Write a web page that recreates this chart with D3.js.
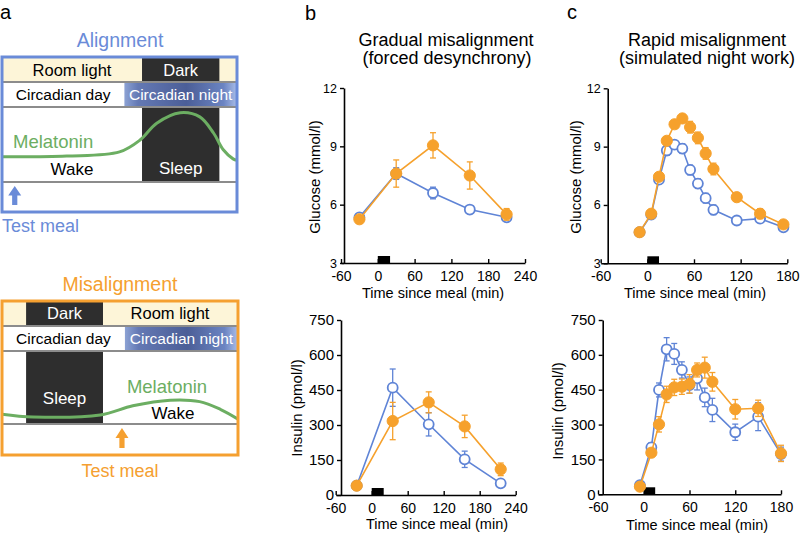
<!DOCTYPE html>
<html>
<head>
<meta charset="utf-8">
<script src="https://cdn.jsdelivr.net/npm/d3@7"></script>
<style>
  body { margin: 0; background: #fff; }
  svg { display: block; font-family: "Liberation Sans", Arial, sans-serif; }
</style>
</head>
<body>
<svg id="fig" width="800" height="533"></svg>
<script>
// ---- data ----
// panel b, gradual misalignment (forced desynchrony)
const bGluTimes = [-30, 30, 90, 150, 210];
const bGluAlign = [5.35, 7.6, 6.6, 5.75, 5.35];
const bGluAlignErr = [0.1, 0.3, 0.3, 0.1, 0.1];
const bGluMis = [5.25, 7.6, 9.05, 7.5, 5.5];
const bGluMisErr = [0.1, 0.7, 0.65, 0.7, 0.3];
const bInsTimes = [-25, 35, 95, 155, 215];
const bInsAlign = [40, 460, 303, 153, 50];
const bInsAlignErr = [8, 80, 50, 35, 10];
const bInsMis = [40, 317, 397, 294, 110];
const bInsMisErr = [8, 80, 45, 48, 27];
const bMeal = [0, 20];

// panel c, rapid misalignment (simulated night work)
const cGluTimes = [-10, 5, 15, 25, 35, 45, 55, 65, 75, 85, 115, 145, 175];
const cGluAlign = [4.6, 5.5, 7.3, 8.8, 9.1, 8.9, 7.8, 7.1, 6.35, 5.75, 5.2, 5.3, 4.85];
const cGluAlignErr = [0.1, 0.1, 0.2, 0.25, 0.2, 0.25, 0.25, 0.25, 0.25, 0.25, 0.2, 0.2, 0.15];
const cGluMis = [4.6, 5.55, 7.45, 9.3, 10.15, 10.45, 10.0, 9.45, 8.65, 7.85, 6.4, 5.55, 5.0];
const cGluMisErr = [0.1, 0.1, 0.15, 0.2, 0.2, 0.2, 0.3, 0.3, 0.3, 0.3, 0.2, 0.25, 0.15];
const cInsTimes = [-5, 10, 20, 30, 40, 50, 60, 70, 80, 90, 120, 150, 180];
const cInsAlign = [39, 202, 449, 624, 604, 535, 470, 499, 417, 363, 267, 334, 173];
const cInsAlignErr = [10, 20, 30, 50, 45, 35, 35, 50, 40, 50, 35, 60, 30];
const cInsMis = [33, 179, 301, 430, 460, 463, 475, 535, 545, 484, 366, 370, 176];
const cInsMisErr = [10, 15, 33, 35, 35, 33, 40, 30, 45, 40, 42, 35, 35];
const cMeal = [0, 15];

const gluTicks = [3, 6, 9, 12];
const insTicks = [0, 150, 300, 450, 600, 750];
const bTimeTicks = [-60, 0, 60, 120, 180, 240];
const cTimeTicks = [-60, 0, 60, 120, 180];

// panel a schematic (hours across the 24 h box, melatonin in arbitrary units)
const alignDark = [14.3, 22.2];
const alignNight = [12.5, 24];
const alignMealHour = 1.3;
const alignMelHours = [0, 6.6, 12, 14.1, 15.8, 18.2, 20.2, 21.6, 22.6, 23.6, 24];
const alignMelLevel = [0.36, 0.37, 0.43, 0.6, 0.84, 0.99, 0.93, 0.7, 0.46, 0.33, 0.31];
const misDark = [2.45, 10.27];
const misNight = [12.5, 24];
const misMealHour = 12.2;
const misMelHours = [0, 3.15, 10, 13.3, 17.1, 20.1, 22.2, 24];
const misMelLevel = [0.14, 0.1, 0.13, 0.26, 0.34, 0.32, 0.21, 0.07];

// ---- styles ----
const BLUE = "#5f84d6", ORANGE = "#f6a12c", GREEN = "#6cae62";
const CREAM = "#fdf5d8", DARK = "#2e2e2e", SEP = "#8c8c8c";

const svg = d3.select("#fig");

// gradient for circadian night
const grad = svg.append("defs").append("linearGradient").attr("id", "night");
[["0%", "#8ca2d4"], ["12%", "#6479b4"], ["55%", "#4b5e97"], ["88%", "#6b84c2"], ["100%", "#a9bde8"]]
  .forEach(s => grad.append("stop").attr("offset", s[0]).attr("stop-color", s[1]));

// panel letters
svg.append("text").attr("x", 0).attr("y", 19).attr("font-size", 20).text("a");
svg.append("text").attr("x", 305).attr("y", 20).attr("font-size", 20).text("b");
svg.append("text").attr("x", 567).attr("y", 19).attr("font-size", 20).text("c");

// ---------- panel a ----------
function drawSchematic(c) {
  const g = svg.append("g");
  const hx = d3.scaleLinear().domain([0, 24]).range([c.x0, c.x1]);
  const r = c.rows;
  const my = d3.scaleLinear().domain([0, 1]).range([r[3], r[3] - 70]);
  const mid = a => (hx(a[0]) + hx(a[1])) / 2;

  g.append("rect").attr("x", hx(0)).attr("y", r[0]).attr("width", hx(24) - hx(0))
    .attr("height", r[1] - r[0]).attr("fill", CREAM);
  g.append("rect").attr("x", hx(c.dark[0])).attr("y", r[0]).attr("width", hx(c.dark[1]) - hx(c.dark[0]))
    .attr("height", r[1] - r[0]).attr("fill", DARK);
  g.append("rect").attr("x", hx(c.dark[0])).attr("y", r[2]).attr("width", hx(c.dark[1]) - hx(c.dark[0]))
    .attr("height", r[3] - r[2]).attr("fill", DARK);
  g.append("rect").attr("x", hx(c.night[0])).attr("y", r[1]).attr("width", hx(c.night[1]) - hx(c.night[0]))
    .attr("height", r[2] - r[1]).attr("fill", "url(#night)");
  [r[1], r[2], r[3]].forEach(yy => g.append("line").attr("x1", hx(0)).attr("x2", hx(24))
    .attr("y1", yy).attr("y2", yy).attr("stroke", SEP).attr("stroke-width", 2));

  const mel = c.melHours.map((h, i) => [h, c.melLevel[i]]);
  g.append("path").datum(mel).attr("fill", "none").attr("stroke", GREEN).attr("stroke-width", 3)
    .attr("d", d3.line().x(d => hx(d[0])).y(d => my(d[1])).curve(d3.curveCatmullRom));

  const txt = (x, y, s, col, size, anchor) => g.append("text").attr("x", x).attr("y", y)
    .attr("fill", col).attr("font-size", size).attr("text-anchor", anchor || "middle").text(s);
  txt(c.lightMid, c.base[0], "Room light", "#000", 16.5);
  txt(mid(c.dark), c.base[0], "Dark", "#fff", 16.5);
  txt(mid([0, c.night[0]]), c.base[1], "Circadian day", "#000", 15.5);
  txt(mid(c.night), c.base[1], "Circadian night", "#fff", 15.5);
  txt(c.wakeMid, c.base[2], "Wake", "#000", 17);
  txt(mid(c.dark), c.base[3], "Sleep", "#fff", 17);
  txt(c.melX, c.melY, "Melatonin", GREEN, 18.5, c.melAnchor);

  g.append("rect").attr("x", c.x0).attr("y", r[0]).attr("width", c.x1 - c.x0)
    .attr("height", r[4] - r[0]).attr("fill", "none").attr("stroke", c.color).attr("stroke-width", 3);

  // meal arrow
  const ax = hx(c.meal), at = r[3] + 4, ab = r[4] - 7;
  const ah = (ab - at) * 0.5;
  g.append("path").attr("fill", c.color)
    .attr("d", `M${ax},${at} L${ax + 6.5},${at + ah} L${ax + 2.6},${at + ah} L${ax + 2.6},${ab}
      L${ax - 2.6},${ab} L${ax - 2.6},${at + ah} L${ax - 6.5},${at + ah} Z`);

  txt(c.titleX, c.titleY, c.title, c.color, 19.5);
  txt(c.mealX, c.mealY, "Test meal", c.color, 18, c.mealAnchor);
}

drawSchematic({
  x0: 2, x1: 237, rows: [57, 82, 107, 182, 212], color: "#6a8bd8",
  dark: alignDark, night: alignNight, meal: alignMealHour,
  melHours: alignMelHours, melLevel: alignMelLevel,
  lightMid: 72, wakeMid: 72, base: [76, 100, 175, 174],
  melX: 13, melY: 148, melAnchor: "start",
  title: "Alignment", titleX: 120, titleY: 47,
  mealX: 2, mealY: 232, mealAnchor: "start"
});
drawSchematic({
  x0: 2, x1: 238, rows: [301, 326, 351, 424, 455], color: "#f5a030",
  dark: misDark, night: misNight, meal: misMealHour,
  melHours: misMelHours, melLevel: misMelLevel,
  lightMid: 170, wakeMid: 173, base: [319, 344, 419, 404],
  melX: 167, melY: 393, melAnchor: "middle",
  title: "Misalignment", titleX: 120, titleY: 291,
  mealX: 120, mealY: 477, mealAnchor: "middle"
});

// ---------- panels b and c ----------
function addSeries(g, x, y, t, v, e, color, open) {
  const pts = t.map((d, i) => ({ t: d, v: v[i], e: e[i] }));
  const s = g.append("g");
  const eb = s.append("g").attr("stroke", color).attr("stroke-width", 1.3);
  pts.forEach(d => {
    const cx = x(d.t), y1 = y(d.v - d.e), y2 = y(d.v + d.e);
    eb.append("line").attr("x1", cx).attr("x2", cx).attr("y1", y1).attr("y2", y2);
    eb.append("line").attr("x1", cx - 3).attr("x2", cx + 3).attr("y1", y1).attr("y2", y1);
    eb.append("line").attr("x1", cx - 3).attr("x2", cx + 3).attr("y1", y2).attr("y2", y2);
  });
  s.append("path").datum(pts).attr("fill", "none").attr("stroke", color).attr("stroke-width", 1.6)
    .attr("d", d3.line().x(d => x(d.t)).y(d => y(d.v)));
  s.selectAll("circle").data(pts).join("circle")
    .attr("cx", d => x(d.t)).attr("cy", d => y(d.v))
    .attr("r", open ? 5 : 5.6)
    .attr("fill", open ? "#fff" : color)
    .attr("stroke", color).attr("stroke-width", open ? 1.8 : 1);
}

function drawChart(p) {
  const g = svg.append("g");
  const x = d3.scaleLinear().domain(p.xDomain).range(p.xRange);
  const y = d3.scaleLinear().domain(p.yDomain).range(p.yRange);

  const xa = g.append("g").attr("transform", `translate(0,${p.yRange[0]})`)
    .call(d3.axisBottom(x).tickValues(p.xTicks).tickSize(-4).tickSizeOuter(0)
      .tickPadding(8).tickFormat(d => String(d)));
  const ya = g.append("g").attr("transform", `translate(${p.yAxisX},0)`)
    .call(d3.axisLeft(y).tickValues(p.yTicks).tickSize(4).tickSizeOuter(0)
      .tickPadding(3).tickFormat(d => String(d)));
  [xa, ya].forEach(a => {
    a.select(".domain").attr("stroke", "#000").attr("stroke-width", 1.6);
    a.selectAll(".tick line").attr("stroke", "#000").attr("stroke-width", 1.4);
    a.selectAll("text").attr("fill", "#000").attr("font-family", null);
  });
  xa.attr("font-size", 14);
  ya.attr("font-size", p.yTickSize);

  // test meal bar
  g.append("rect").attr("x", x(p.meal[0])).attr("y", p.yRange[0] - 7)
    .attr("width", x(p.meal[1]) - x(p.meal[0])).attr("height", 7).attr("fill", "#000");

  p.series.forEach(s => addSeries(g, x, y, s.t, s.v, s.e, s.color, s.open));

  g.append("text").attr("x", p.xTitle[0]).attr("y", p.xTitle[1]).attr("text-anchor", "middle")
    .attr("font-size", 14.5).text("Time since meal (min)");
  g.append("text").attr("transform", `translate(${p.yTitle[0]},${p.yTitle[1]}) rotate(-90)`)
    .attr("text-anchor", "middle").attr("font-size", 15).text(p.yLabel);
}

drawChart({
  xDomain: [-60, 240], xRange: [341, 525], yDomain: [3, 12], yRange: [263, 88],
  yAxisX: 344, xTicks: bTimeTicks, yTicks: gluTicks, yTickSize: 12.5, meal: bMeal,
  xTitle: [433, 298], yTitle: [320, 177], yLabel: "Glucose (mmol/l)",
  series: [
    { t: bGluTimes, v: bGluAlign, e: bGluAlignErr, color: BLUE, open: true },
    { t: bGluTimes, v: bGluMis, e: bGluMisErr, color: ORANGE, open: false }
  ]
});
drawChart({
  xDomain: [-60, 240], xRange: [335.7, 515.7], yDomain: [0, 750], yRange: [495, 320],
  yAxisX: 341, xTicks: bTimeTicks, yTicks: insTicks, yTickSize: 15, meal: bMeal,
  xTitle: [437, 529], yTitle: [302, 408], yLabel: "Insulin (pmol/l)",
  series: [
    { t: bInsTimes, v: bInsAlign, e: bInsAlignErr, color: BLUE, open: true },
    { t: bInsTimes, v: bInsMis, e: bInsMisErr, color: ORANGE, open: false }
  ]
});
drawChart({
  xDomain: [-60, 180], xRange: [600.7, 787.3], yDomain: [3, 12], yRange: [263.3, 88.3],
  yAxisX: 607.7, xTicks: cTimeTicks, yTicks: gluTicks, yTickSize: 12.5, meal: cMeal,
  xTitle: [695, 298], yTitle: [581, 177], yLabel: "Glucose (mmol/l)",
  series: [
    { t: cGluTimes, v: cGluAlign, e: cGluAlignErr, color: BLUE, open: true },
    { t: cGluTimes, v: cGluMis, e: cGluMisErr, color: ORANGE, open: false }
  ]
});
drawChart({
  xDomain: [-60, 180], xRange: [598, 781], yDomain: [0, 750], yRange: [494.3, 320],
  yAxisX: 602.7, xTicks: cTimeTicks, yTicks: insTicks, yTickSize: 15, meal: cMeal,
  xTitle: [697, 530], yTitle: [563, 411], yLabel: "Insulin (pmol/l)",
  series: [
    { t: cInsTimes, v: cInsAlign, e: cInsAlignErr, color: BLUE, open: true },
    { t: cInsTimes, v: cInsMis, e: cInsMisErr, color: ORANGE, open: false }
  ]
});

// panel titles
const titles = [
  [446, 46, "Gradual misalignment"], [447, 64, "(forced desynchrony)"],
  [707, 46, "Rapid misalignment"], [707, 64, "(simulated night work)"]
];
titles.forEach(t => svg.append("text").attr("x", t[0]).attr("y", t[1]).attr("text-anchor", "middle")
  .attr("font-size", 18).text(t[2]));
</script>
</body>
</html>
